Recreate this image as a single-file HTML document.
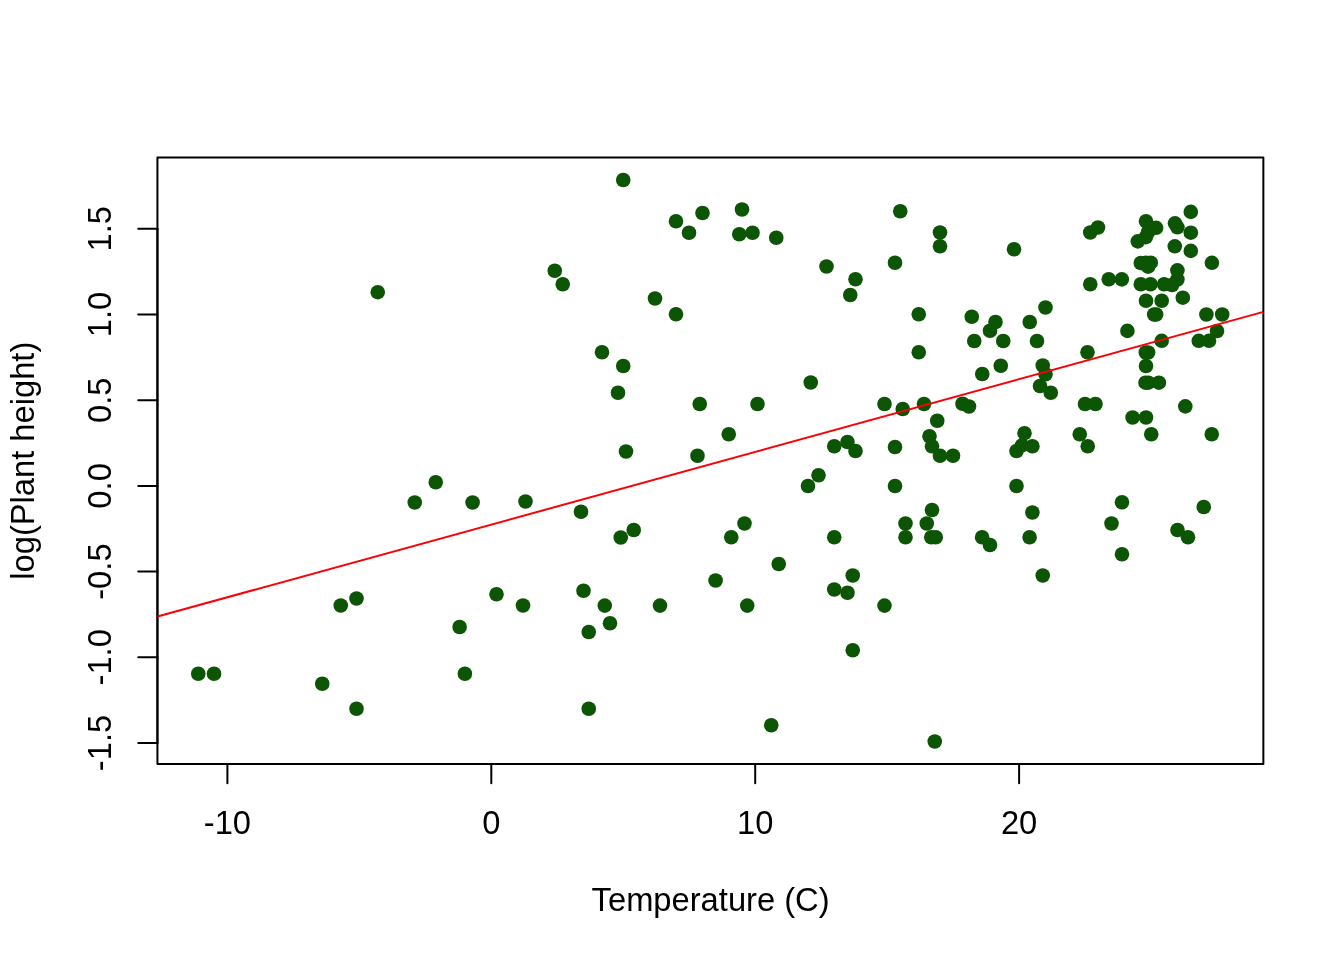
<!DOCTYPE html>
<html><head><meta charset="utf-8"><title>Plant height vs temperature</title>
<style>
html,body{margin:0;padding:0;background:#fff;}
body{width:1344px;height:960px;overflow:hidden;}
svg{display:block;}
text{font-family:"Liberation Sans",Arial,Helvetica,sans-serif;font-size:32px;fill:#000;}
</style></head><body>
<svg width="1344" height="960" viewBox="0 0 1344 960">
<rect width="1344" height="960" fill="#fff"/>
<defs><clipPath id="pc"><rect x="157.44" y="157.44" width="1105.92" height="606.56"/></clipPath></defs>

<g fill="#0c5504">
<circle cx="377.75" cy="292.20" r="7.3"/>
<circle cx="623.25" cy="180.00" r="7.3"/>
<circle cx="676.00" cy="221.25" r="7.3"/>
<circle cx="689.00" cy="232.75" r="7.3"/>
<circle cx="702.50" cy="213.00" r="7.3"/>
<circle cx="742.00" cy="209.50" r="7.3"/>
<circle cx="739.25" cy="234.25" r="7.3"/>
<circle cx="752.50" cy="232.75" r="7.3"/>
<circle cx="554.75" cy="270.75" r="7.3"/>
<circle cx="562.75" cy="284.25" r="7.3"/>
<circle cx="655.00" cy="298.50" r="7.3"/>
<circle cx="676.00" cy="314.25" r="7.3"/>
<circle cx="602.00" cy="352.25" r="7.3"/>
<circle cx="623.25" cy="366.00" r="7.3"/>
<circle cx="618.00" cy="392.75" r="7.3"/>
<circle cx="776.25" cy="237.75" r="7.3"/>
<circle cx="826.50" cy="266.50" r="7.3"/>
<circle cx="855.50" cy="279.25" r="7.3"/>
<circle cx="850.25" cy="295.00" r="7.3"/>
<circle cx="895.00" cy="262.75" r="7.3"/>
<circle cx="900.25" cy="211.25" r="7.3"/>
<circle cx="940.00" cy="232.50" r="7.3"/>
<circle cx="940.00" cy="246.25" r="7.3"/>
<circle cx="1014.00" cy="249.25" r="7.3"/>
<circle cx="918.75" cy="314.25" r="7.3"/>
<circle cx="918.75" cy="352.25" r="7.3"/>
<circle cx="971.75" cy="316.75" r="7.3"/>
<circle cx="995.50" cy="322.00" r="7.3"/>
<circle cx="990.00" cy="330.75" r="7.3"/>
<circle cx="974.25" cy="341.00" r="7.3"/>
<circle cx="1003.25" cy="341.00" r="7.3"/>
<circle cx="1029.75" cy="322.00" r="7.3"/>
<circle cx="1037.00" cy="341.00" r="7.3"/>
<circle cx="1000.75" cy="365.75" r="7.3"/>
<circle cx="982.25" cy="374.00" r="7.3"/>
<circle cx="810.75" cy="382.50" r="7.3"/>
<circle cx="1045.50" cy="307.50" r="7.3"/>
<circle cx="1042.75" cy="365.50" r="7.3"/>
<circle cx="1045.50" cy="374.25" r="7.3"/>
<circle cx="1040.00" cy="386.00" r="7.3"/>
<circle cx="1050.75" cy="392.75" r="7.3"/>
<circle cx="1087.50" cy="352.25" r="7.3"/>
<circle cx="1127.40" cy="330.90" r="7.3"/>
<circle cx="1090.25" cy="284.25" r="7.3"/>
<circle cx="1108.75" cy="279.25" r="7.3"/>
<circle cx="1121.80" cy="279.40" r="7.3"/>
<circle cx="1090.25" cy="232.50" r="7.3"/>
<circle cx="1098.00" cy="227.50" r="7.3"/>
<circle cx="1190.80" cy="211.90" r="7.3"/>
<circle cx="1190.80" cy="232.70" r="7.3"/>
<circle cx="1190.80" cy="250.90" r="7.3"/>
<circle cx="1174.80" cy="246.30" r="7.3"/>
<circle cx="1175.00" cy="223.30" r="7.3"/>
<circle cx="1177.40" cy="227.30" r="7.3"/>
<circle cx="1211.90" cy="262.80" r="7.3"/>
<circle cx="1146.00" cy="221.25" r="7.3"/>
<circle cx="1156.10" cy="227.80" r="7.3"/>
<circle cx="1137.80" cy="241.40" r="7.3"/>
<circle cx="1145.80" cy="237.20" r="7.3"/>
<circle cx="1140.80" cy="263.00" r="7.3"/>
<circle cx="1150.75" cy="262.70" r="7.3"/>
<circle cx="1148.10" cy="266.70" r="7.3"/>
<circle cx="1177.40" cy="270.30" r="7.3"/>
<circle cx="1177.40" cy="279.50" r="7.3"/>
<circle cx="1140.80" cy="284.25" r="7.3"/>
<circle cx="1150.50" cy="284.25" r="7.3"/>
<circle cx="1164.10" cy="284.25" r="7.3"/>
<circle cx="1172.00" cy="285.00" r="7.3"/>
<circle cx="1146.00" cy="300.75" r="7.3"/>
<circle cx="1161.70" cy="300.75" r="7.3"/>
<circle cx="1182.80" cy="297.70" r="7.3"/>
<circle cx="1154.20" cy="314.50" r="7.3"/>
<circle cx="1156.10" cy="314.50" r="7.3"/>
<circle cx="1206.40" cy="314.50" r="7.3"/>
<circle cx="1222.20" cy="314.50" r="7.3"/>
<circle cx="1161.70" cy="340.80" r="7.3"/>
<circle cx="1217.00" cy="331.00" r="7.3"/>
<circle cx="1198.75" cy="340.80" r="7.3"/>
<circle cx="1209.00" cy="340.80" r="7.3"/>
<circle cx="1145.80" cy="352.50" r="7.3"/>
<circle cx="1148.10" cy="352.50" r="7.3"/>
<circle cx="1146.00" cy="366.00" r="7.3"/>
<circle cx="1145.50" cy="382.70" r="7.3"/>
<circle cx="1148.30" cy="382.70" r="7.3"/>
<circle cx="1158.90" cy="382.70" r="7.3"/>
<circle cx="1185.30" cy="406.40" r="7.3"/>
<circle cx="1132.60" cy="417.50" r="7.3"/>
<circle cx="1146.00" cy="417.50" r="7.3"/>
<circle cx="435.75" cy="482.25" r="7.3"/>
<circle cx="414.75" cy="502.50" r="7.3"/>
<circle cx="472.60" cy="502.50" r="7.3"/>
<circle cx="356.50" cy="598.50" r="7.3"/>
<circle cx="340.75" cy="605.50" r="7.3"/>
<circle cx="699.75" cy="404.00" r="7.3"/>
<circle cx="757.50" cy="404.00" r="7.3"/>
<circle cx="728.75" cy="434.25" r="7.3"/>
<circle cx="697.50" cy="455.75" r="7.3"/>
<circle cx="626.00" cy="451.50" r="7.3"/>
<circle cx="525.50" cy="501.50" r="7.3"/>
<circle cx="581.00" cy="511.75" r="7.3"/>
<circle cx="633.75" cy="530.00" r="7.3"/>
<circle cx="620.75" cy="537.50" r="7.3"/>
<circle cx="744.50" cy="523.50" r="7.3"/>
<circle cx="731.25" cy="537.25" r="7.3"/>
<circle cx="715.60" cy="580.50" r="7.3"/>
<circle cx="496.50" cy="594.25" r="7.3"/>
<circle cx="523.00" cy="605.50" r="7.3"/>
<circle cx="583.50" cy="590.75" r="7.3"/>
<circle cx="604.75" cy="605.60" r="7.3"/>
<circle cx="660.00" cy="605.60" r="7.3"/>
<circle cx="747.25" cy="605.60" r="7.3"/>
<circle cx="884.50" cy="404.00" r="7.3"/>
<circle cx="902.75" cy="409.00" r="7.3"/>
<circle cx="924.00" cy="404.00" r="7.3"/>
<circle cx="962.50" cy="403.75" r="7.3"/>
<circle cx="969.00" cy="406.50" r="7.3"/>
<circle cx="937.25" cy="420.75" r="7.3"/>
<circle cx="929.50" cy="436.25" r="7.3"/>
<circle cx="932.00" cy="446.25" r="7.3"/>
<circle cx="940.00" cy="455.75" r="7.3"/>
<circle cx="953.00" cy="455.75" r="7.3"/>
<circle cx="895.00" cy="447.00" r="7.3"/>
<circle cx="834.25" cy="446.25" r="7.3"/>
<circle cx="847.50" cy="442.00" r="7.3"/>
<circle cx="855.50" cy="451.00" r="7.3"/>
<circle cx="818.50" cy="475.25" r="7.3"/>
<circle cx="808.00" cy="486.00" r="7.3"/>
<circle cx="895.00" cy="486.00" r="7.3"/>
<circle cx="1016.50" cy="486.00" r="7.3"/>
<circle cx="1024.50" cy="433.20" r="7.3"/>
<circle cx="1016.50" cy="451.00" r="7.3"/>
<circle cx="1022.00" cy="445.30" r="7.3"/>
<circle cx="1032.40" cy="446.25" r="7.3"/>
<circle cx="1032.40" cy="512.50" r="7.3"/>
<circle cx="1029.60" cy="537.25" r="7.3"/>
<circle cx="932.00" cy="510.00" r="7.3"/>
<circle cx="926.75" cy="523.50" r="7.3"/>
<circle cx="905.50" cy="523.50" r="7.3"/>
<circle cx="905.50" cy="537.25" r="7.3"/>
<circle cx="931.25" cy="537.25" r="7.3"/>
<circle cx="935.75" cy="537.25" r="7.3"/>
<circle cx="982.10" cy="537.25" r="7.3"/>
<circle cx="990.00" cy="545.00" r="7.3"/>
<circle cx="834.25" cy="537.25" r="7.3"/>
<circle cx="778.75" cy="564.00" r="7.3"/>
<circle cx="852.75" cy="575.50" r="7.3"/>
<circle cx="834.25" cy="589.50" r="7.3"/>
<circle cx="847.50" cy="592.75" r="7.3"/>
<circle cx="884.50" cy="605.60" r="7.3"/>
<circle cx="1085.00" cy="404.00" r="7.3"/>
<circle cx="1095.50" cy="404.00" r="7.3"/>
<circle cx="1151.25" cy="434.25" r="7.3"/>
<circle cx="1211.75" cy="434.25" r="7.3"/>
<circle cx="1079.75" cy="434.25" r="7.3"/>
<circle cx="1087.75" cy="446.25" r="7.3"/>
<circle cx="1122.00" cy="502.25" r="7.3"/>
<circle cx="1111.50" cy="523.50" r="7.3"/>
<circle cx="1122.00" cy="554.25" r="7.3"/>
<circle cx="1042.75" cy="575.50" r="7.3"/>
<circle cx="1203.75" cy="507.00" r="7.3"/>
<circle cx="1177.50" cy="530.00" r="7.3"/>
<circle cx="1188.00" cy="537.25" r="7.3"/>
<circle cx="459.60" cy="627.00" r="7.3"/>
<circle cx="464.90" cy="673.75" r="7.3"/>
<circle cx="198.25" cy="673.75" r="7.3"/>
<circle cx="214.00" cy="673.75" r="7.3"/>
<circle cx="322.25" cy="683.75" r="7.3"/>
<circle cx="356.50" cy="708.75" r="7.3"/>
<circle cx="610.00" cy="623.25" r="7.3"/>
<circle cx="588.75" cy="632.00" r="7.3"/>
<circle cx="588.75" cy="708.75" r="7.3"/>
<circle cx="852.75" cy="650.25" r="7.3"/>
<circle cx="771.25" cy="725.25" r="7.3"/>
<circle cx="934.75" cy="741.50" r="7.3"/>
<circle cx="1148.10" cy="232.00" r="7.3"/>
<circle cx="1145.80" cy="262.80" r="7.3"/>
</g>
<g stroke="#000" stroke-width="2" fill="none" stroke-linecap="round" stroke-linejoin="round">
<rect x="157.44" y="157.44" width="1105.92" height="606.56"/>
<path d="M227.40 764.00H1019.10"/>
<path d="M227.40 764.00v19.2"/>
<path d="M491.30 764.00v19.2"/>
<path d="M755.20 764.00v19.2"/>
<path d="M1019.10 764.00v19.2"/>
<path d="M157.44 742.98V228.81"/>
<path d="M157.44 742.98h-19.2"/>
<path d="M157.44 657.29h-19.2"/>
<path d="M157.44 571.60h-19.2"/>
<path d="M157.44 485.90h-19.2"/>
<path d="M157.44 400.20h-19.2"/>
<path d="M157.44 314.51h-19.2"/>
<path d="M157.44 228.81h-19.2"/>
</g>
<line x1="157.44" y1="616.55" x2="1263.36" y2="311.90" stroke="#fb0006" stroke-width="2" clip-path="url(#pc)"/>
<text transform="translate(227.40 834.1) scale(1.022 1.045)" text-anchor="middle">-10</text>
<text transform="translate(491.30 834.1) scale(1.022 1.045)" text-anchor="middle">0</text>
<text transform="translate(755.20 834.1) scale(1.022 1.045)" text-anchor="middle">10</text>
<text transform="translate(1019.10 834.1) scale(1.022 1.045)" text-anchor="middle">20</text>
<text transform="translate(111 742.98) rotate(-90) scale(1.022 1.045)" text-anchor="middle">-1.5</text>
<text transform="translate(111 657.29) rotate(-90) scale(1.022 1.045)" text-anchor="middle">-1.0</text>
<text transform="translate(111 571.60) rotate(-90) scale(1.022 1.045)" text-anchor="middle">-0.5</text>
<text transform="translate(111 485.90) rotate(-90) scale(1.022 1.045)" text-anchor="middle">0.0</text>
<text transform="translate(111 400.20) rotate(-90) scale(1.022 1.045)" text-anchor="middle">0.5</text>
<text transform="translate(111 314.51) rotate(-90) scale(1.022 1.045)" text-anchor="middle">1.0</text>
<text transform="translate(111 228.81) rotate(-90) scale(1.022 1.045)" text-anchor="middle">1.5</text>
<text transform="translate(710.6 910.8) scale(1.022 1.045)" text-anchor="middle">Temperature (C)</text>
<text transform="translate(34.4 460.7) rotate(-90) scale(1.022 1.045)" text-anchor="middle">log(Plant height)</text>
</svg></body></html>
